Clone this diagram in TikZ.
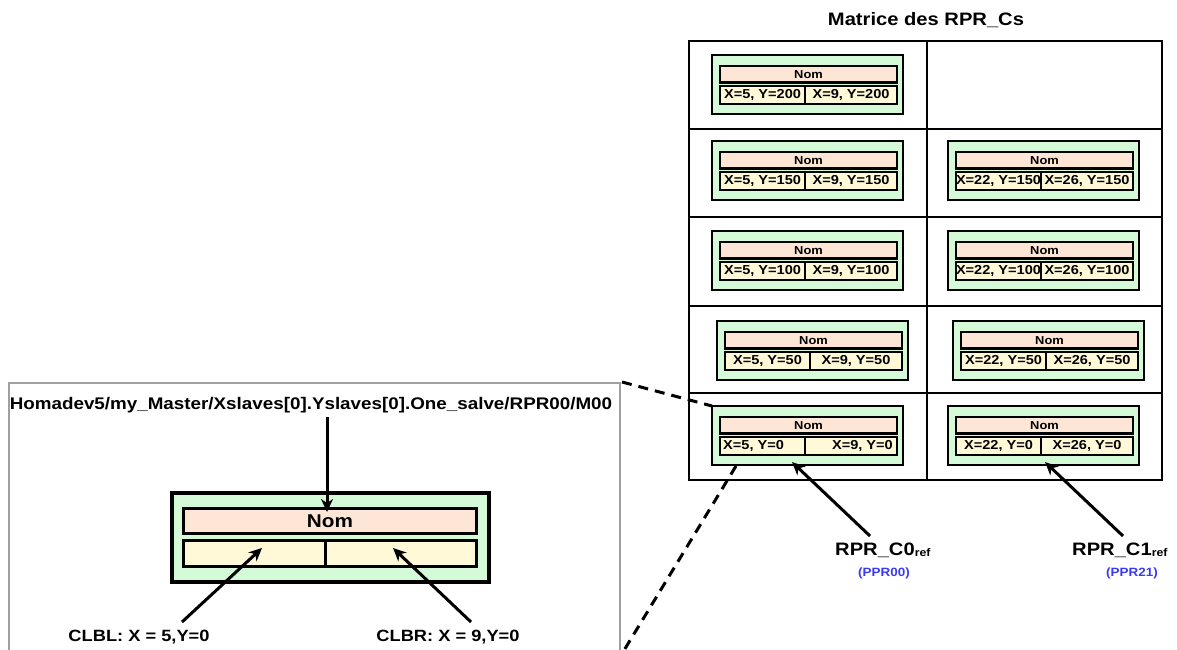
\documentclass[tikz,border=0pt]{standalone}
\usepackage{fontspec}
\setmainfont{Liberation Sans}[FakeStretch=1.12]
\usetikzlibrary{calc,arrows.meta}
\definecolor{gfill}{HTML}{D5FAD8}
\definecolor{nfill}{HTML}{FDE6D6}
\definecolor{cfill}{HTML}{FFF9D8}
\definecolor{pblue}{HTML}{3A3AF5}
\definecolor{fgray}{HTML}{A0A0A0}
\tikzset{
  gbox/.style={draw=black, fill=gfill, line width=2.6pt, minimum width=191pt, minimum height=59pt, anchor=north west, inner sep=0pt, outer sep=0pt},
  nbox/.style={draw=black, fill=nfill, line width=2.1pt, minimum width=177pt, minimum height=16.5pt, anchor=north west, inner sep=0pt, outer sep=0pt, font=\fontsize{11.5}{12}\selectfont\bfseries},
  cbox/.style={draw=black, fill=cfill, line width=2.1pt, minimum height=18pt, anchor=north west, inner sep=0pt, outer sep=0pt},
  ctext/.style={inner sep=0pt, font=\fontsize{13}{13}\selectfont\bfseries},
  gridline/.style={draw=black, line width=2.6pt},
  arr/.style={draw=black, line width=3pt, -{Stealth[length=13pt,width=12pt,inset=4pt]}},
  dashline/.style={draw=black, line width=3pt, dash pattern=on 10pt off 7pt},
  lbl/.style={inner sep=0pt, font=\fontsize{16.3}{18}\selectfont\bfseries},
  reflbl/.style={inner sep=0pt, anchor=base west, font=\fontsize{18}{20}\selectfont\bfseries},
  ppr/.style={inner sep=0pt, text=pblue, font=\fontsize{12}{14}\selectfont\bfseries},
}
\newcommand{\rprbox}[3]{%
  \node[gbox] (#1) at (#2,#3) {};
  \node[nbox] (#1n) at ($(#1.north west)+(8,11)$) {Nom};
  \node[cbox, minimum width=85pt] (#1l) at ($(#1.north west)+(8,31)$) {};
  \node[cbox, minimum width=92pt] (#1r) at ($(#1.north west)+(93,31)$) {};
}
\newcommand{\rprmod}[5]{%
  \rprbox{#1}{#2}{#3}
  \node[ctext] (#1lt) at (#1l.center) {#4};
  \node[ctext] (#1rt) at (#1r.center) {#5};
}
\begin{document}
\begin{tikzpicture}[x=1pt,y=-1pt]
\useasboundingbox (0,0) rectangle (1177,650);
% title
\node[inner sep=0pt, anchor=base, font=\fontsize{18}{20}\selectfont\bfseries] (title) at (926,26) {Matrice des RPR\_Cs};
% grid
\draw[gridline] (689,41) rectangle (1162,480);
\draw[gridline] (927,41) -- (927,480);
\draw[gridline] (689,129) -- (1162,129);
\draw[gridline] (689,217) -- (1162,217);
\draw[gridline] (689,306) -- (1162,306);
\draw[gridline] (689,393) -- (1162,393);
% modules
\rprmod{ma}{712}{55}{X=5, Y=200}{X=9, Y=200}
\rprmod{mb}{712}{141}{X=5, Y=150}{X=9, Y=150}
\rprmod{mbb}{948}{141}{X=22, Y=150}{X=26, Y=150}
\rprmod{mc}{712}{231}{X=5, Y=100}{X=9, Y=100}
\rprmod{mcc}{948}{231}{X=22, Y=100}{X=26, Y=100}
\rprmod{md}{717}{321}{X=5, Y=50}{X=9, Y=50}
\rprmod{mdd}{953}{321}{X=22, Y=50}{X=26, Y=50}
\rprbox{me}{712}{406}
\node[ctext, anchor=west] (melt) at ($(mel.west)+(3,0)$) {X=5, Y=0};
\node[ctext, anchor=east] (mert) at ($(mer.east)+(-4,0)$) {X=9, Y=0};
\rprmod{mee}{948}{406}{X=22, Y=0}{X=26, Y=0}
% reference labels
\node[reflbl] (c0) at (835,555) {RPR\_C0\raisebox{-1.5pt}{\fontsize{11}{11}\selectfont ref}};
\node[reflbl] (c1) at (1072,555) {RPR\_C1\raisebox{-1.5pt}{\fontsize{11}{11}\selectfont ref}};
\node[ppr] (p0) at (884,573) {(PPR00)};
\node[ppr] (p1) at (1132,573) {(PPR21)};
\coordinate (c0s) at (870,536);
\coordinate (c0t) at (792,462);
\coordinate (c1s) at (1123,536);
\coordinate (c1t) at (1045,462);
\draw[arr] (c0s) -- (c0t);
\draw[arr] (c1s) -- (c1t);
% zoom frame
\draw[fgray, line width=1.2pt] (9,660) -- (9,383) -- (620,383) -- (620,660);
\node[inner sep=0pt, anchor=base, font=\fontsize{16.8}{18}\selectfont\bfseries] (path) at (311,409) {Homadev5/my\_Master/Xslaves[0].Yslaves[0].One\_salve/RPR00/M00};
% big module
\node[draw=black, fill=gfill, line width=4pt, minimum width=317pt, minimum height=89pt, anchor=north west, inner sep=0pt] (bg) at (170,491) {};
\node[draw=black, fill=nfill, line width=3pt, minimum width=293pt, minimum height=25pt, anchor=north west, inner sep=0pt, font=\fontsize{18.5}{20}\selectfont\bfseries] (bn) at (182,507) {Nom};
\node[draw=black, fill=cfill, line width=3pt, minimum width=142pt, minimum height=26pt, anchor=north west, inner sep=0pt] (bl) at (182,539) {};
\node[draw=black, fill=cfill, line width=3pt, minimum width=151pt, minimum height=26pt, anchor=north west, inner sep=0pt] (br) at (324,539) {};
\coordinate (vs) at (327,417);
\coordinate (vt) at (327,512);
\draw[arr] (vs) -- (vt);
\node[lbl] (clbl) at (139,637) {CLBL: X = 5,Y=0};
\node[lbl] (clbr) at (448,637) {CLBR: X = 9,Y=0};
\coordinate (ls) at (182,622);
\coordinate (lt) at (262,548);
\coordinate (rs) at (471,622);
\coordinate (rt) at (393,548);
\draw[arr] (ls) -- (lt);
\draw[arr] (rs) -- (rt);
% dashed zoom lines
\coordinate (ztr) at (622,382);
\coordinate (zbr) at (623,652);
\coordinate (meb) at (736,466);
\draw[dashline] (ztr) -- (me.north west);
\draw[dashline] (meb) -- (zbr);
\end{tikzpicture}
\end{document}
